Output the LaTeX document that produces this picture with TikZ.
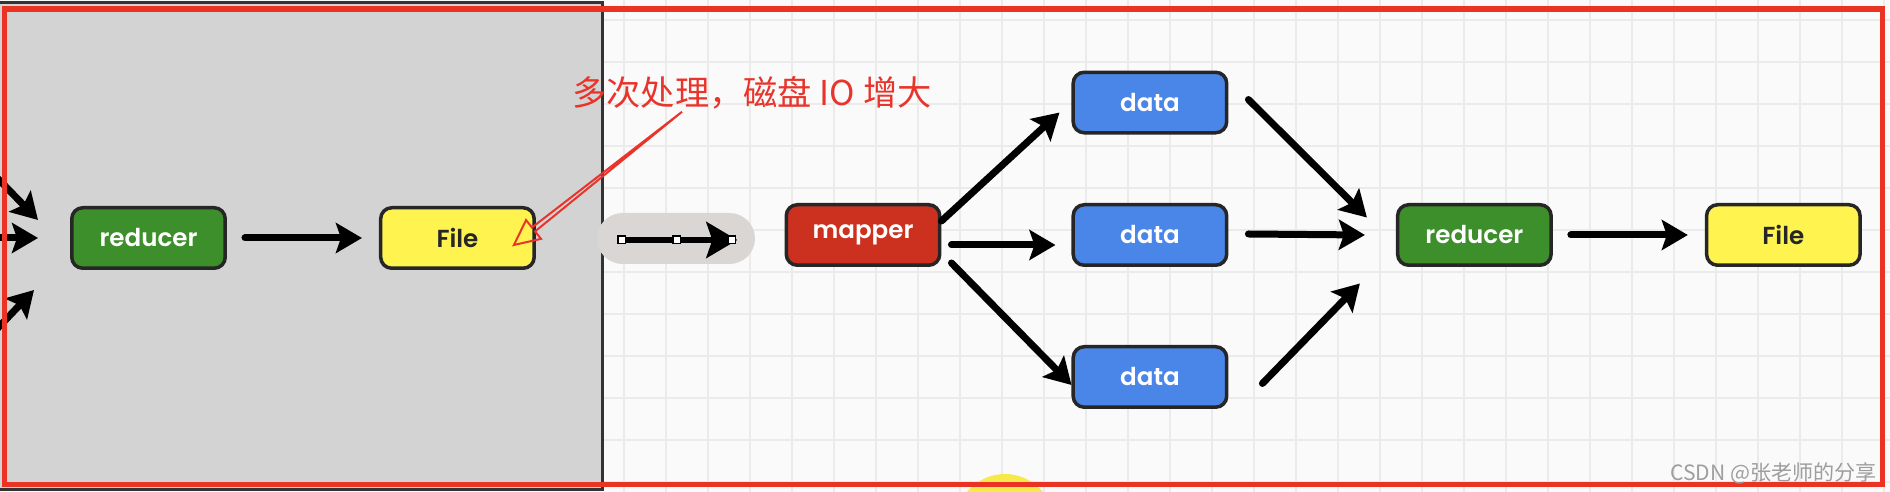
\documentclass[tikz,border=0pt]{standalone}
\usepackage{fontspec}
\setmainfont{Poppins}[UprightFont={* SemiBold}]
\newfontfamily\cjkfont{Noto Sans CJK SC}
\usepackage{xcolor}
\definecolor{mapred}{HTML}{CC3120}
\definecolor{datablue}{HTML}{4A86E8}
\definecolor{redgreen}{HTML}{3C8F2A}
\definecolor{fileyellow}{HTML}{FFF350}
\definecolor{panelgray}{HTML}{D3D3D3}
\definecolor{pillgray}{HTML}{DAD6D3}
\definecolor{notered}{HTML}{E8342B}
\definecolor{framered}{HTML}{EA3323}
\definecolor{gridgray}{HTML}{EBEBEB}
\definecolor{canvaswhite}{HTML}{FAFAFA}
\definecolor{cursoryellow}{HTML}{F7E94A}
\usepackage{tikz}
\usetikzlibrary{arrows.meta,positioning,calc}
\tikzset{
  jobbox/.style={draw=black!85,line width=0.07cm,rounded corners=0.22cm,minimum width=3.07cm,minimum height=1.21cm,inner sep=0pt,font=\fontsize{14}{16}\selectfont,text=white},
  filebox/.style={jobbox,fill=fileyellow,text=black!85},
  jobarrow/.style={-{Stealth[length=0.52cm,width=0.6cm,inset=0.1cm]},line width=0.14cm,line cap=round,black},
  gridline/.style={gridgray,line width=0.03cm},
  handle/.style={draw=black,fill=white,line width=0.03cm,minimum size=0.15cm,inner sep=0pt}
}

\begin{document}
\begin{tikzpicture}[x=0.02cm,y=-0.02cm]
\clip (0,0) rectangle (1890,492);
\fill[canvaswhite] (0,0) rectangle (1890,492);
\foreach \gx in {624,666,...,1890} \draw[gridline] (\gx,0) -- (\gx,492);
\foreach \gy in {20,62,...,490} \draw[gridline] (603,\gy) -- (1890,\gy);
\filldraw[fill=panelgray,draw=black!80,line width=0.06cm] (-5,3) rectangle (602,490);
\fill[cursoryellow] (1005,523) circle[radius=0.98cm];

% earlier stage, greyed out
\node[jobbox,fill=redgreen] (redL) at (148.5,238) {reducer};
\node[filebox,right=3.04cm of redL] (fileL) {File};
\coordinate (inA) at (-25,155);
\coordinate (inB) at (-25,238);
\coordinate (inC) at (-25,352);
\draw[jobarrow] (inA) -- ($(redL.west)+(-32,-18)$);
\draw[jobarrow] (inB) -- ($(redL.west)+(-32,0)$);
\draw[jobarrow] (inC) -- ($(redL.west)+(-36,52)$);
\draw[jobarrow,shorten <=0.36cm,shorten >=0.34cm] (redL) -- (fileL);

\node[fill=pillgray,rounded corners=0.51cm,minimum width=3.16cm,minimum height=1.02cm,inner sep=0pt] (pill) at (676,238.5) {};
\draw[-{Stealth[length=0.62cm,width=0.72cm,inset=0.12cm]},line width=0.12cm] ($(pill.west)+(25,1.5)$) -- ($(pill.east)+(-18,1.5)$);
\foreach \hx in {25,80,135} \node[handle] (h\hx) at ($(pill.west)+(\hx,1.5)$) {};

% next stage
\node[jobbox,fill=mapred] (mapper) at (863,235) {mapper};
\node[jobbox,fill=datablue,right=2.6cm of mapper] (data2) {data};
\node[jobbox,fill=datablue,above=1.37cm of data2] (data1) {data};
\node[jobbox,fill=datablue,below=1.56cm of data2] (data3) {data};
\node[jobbox,fill=redgreen,right=3.35cm of data2] (redR) {reducer};
\node[filebox,right=3.04cm of redR] (fileR) {File};
\draw[jobarrow] ($(mapper.east)+(0,-14)$) -- ($(data1.west)+(-12,10)$);
\draw[jobarrow] ($(mapper.east)+(10,10)$) -- ($(data2.west)+(-16,10)$);
\draw[jobarrow] ($(mapper.east)+(10,28)$) -- ($(data3.west)+(0,8)$);
\draw[jobarrow] ($(data1.east)+(20,-3)$) -- ($(redR.west)+(-29,-17.5)$);
\draw[jobarrow] ($(data2.east)+(20,-1)$) -- ($(redR.west)+(-31,0)$);
\draw[jobarrow] ($(data3.east)+(34,6.5)$) -- ($(redR.west)+(-36,48.5)$);
\draw[jobarrow,shorten <=0.36cm,shorten >=0.34cm] (redR) -- (fileR);

\draw[framered,line width=0.11cm] (4.5,9) rectangle (1882.5,484.5);

% annotation
\node[text=notered,font=\cjkfont\fontsize{19.5}{22}\selectfont,inner sep=0pt] (note) at (752,93) {多次处理，磁盘 IO 增大};
\coordinate (noteA) at ($(note.south west)+(110,2)$);
\coordinate (noteB) at ($(fileL.east)+(-22,7)$);
\coordinate (noteH) at ($(noteB)!0.5cm!(noteA)$);
\coordinate (hl) at ($(noteH)!0.05cm!90:(noteA)$);
\coordinate (hr) at ($(noteH)!0.05cm!-90:(noteA)$);
\coordinate (wl) at ($(noteH)!0.24cm!90:(noteA)$);
\coordinate (wr) at ($(noteH)!0.24cm!-90:(noteA)$);
\draw[notered,line width=0.04cm] (noteA) -- (hl) -- (wl) -- (noteB) -- (wr) -- (hr) -- cycle;

\node[text=black!38,font=\cjkfont\fontsize{12}{14}\selectfont,anchor=east,inner sep=0pt] (mark) at (1877,473) {CSDN @张老师的分享};
\end{tikzpicture}
\end{document}
